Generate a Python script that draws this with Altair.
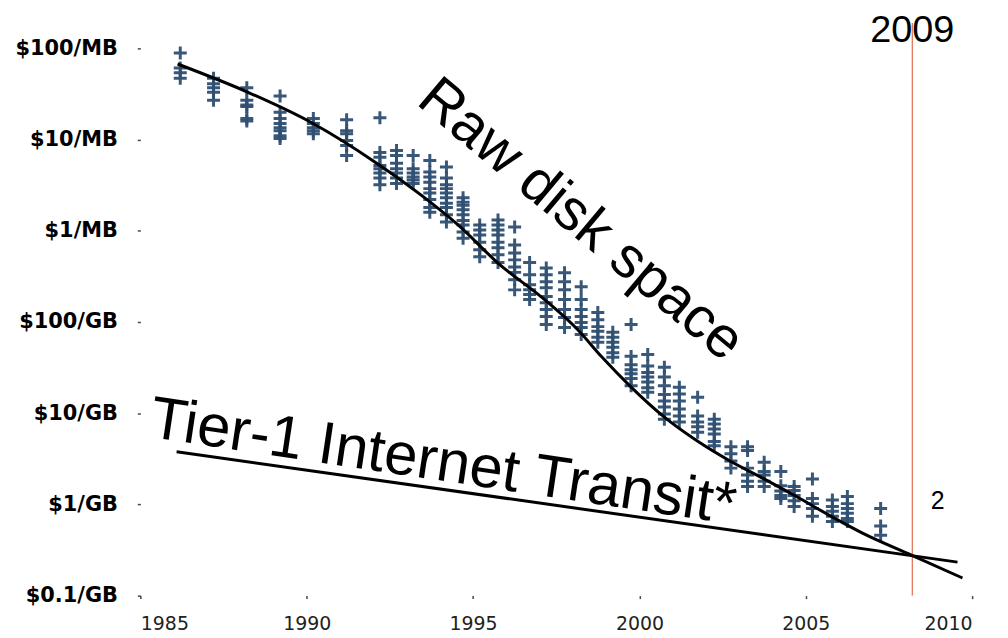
import altair as alt
import pandas as pd

# ---- data (price in $ per GB) ----
col_years = [1986.2, 1987.2, 1988.2, 1989.2, 1990.2, 1991.2, 1992.2, 1992.7,
             1993.2, 1993.7, 1994.2, 1994.7, 1995.2, 1995.75, 1996.25, 1996.7,
             1997.2, 1997.75, 1998.25, 1998.75, 1999.2, 1999.75, 2000.25, 2000.75,
             2001.2, 2001.75, 2002.25, 2002.75, 2003.25, 2003.75, 2004.25, 2004.65,
             2005.2, 2005.8, 2006.25, 2007.25]

col_prices = [
    [89000, 61000, 54000, 47000],
    [47000, 41000, 37000, 33000, 27000],
    [37000, 27000, 24000, 23000, 17000, 16000],
    [30000, 20000, 17000, 15000, 13500, 12500, 11000, 10300],
    [17000, 15000, 13500, 12500, 11600],
    [16500, 12500, 11600, 9750, 8600, 6700],
    [17400, 7200, 6400, 5200, 4800, 4300, 3800, 3200],
    [7600, 6700, 5500, 4800, 4300, 3800, 3300],
    [6700, 4800, 4300, 3900, 3600, 3300],
    [5900, 4400, 3900, 3400, 2900, 2600, 2200, 1800, 1600],
    [5000, 3800, 3200, 2900, 2600, 2300, 2000, 1800, 1500, 1250],
    [2300, 2060, 1900, 1700, 1500, 1300, 1160, 970, 830],
    [1160, 1020, 900, 750, 620, 520],
    [1310, 1160, 1020, 900, 750, 650, 545, 450],
    [1100, 700, 570, 480, 400, 350, 290, 225],
    [450, 330, 256, 226, 200, 176],
    [390, 330, 276, 238, 190, 163, 137, 115, 94],
    [346, 276, 226, 176, 137, 112, 87],
    [244, 176, 137, 115, 99, 87, 73],
    [127, 106, 89, 79, 68, 60],
    [77, 68, 60, 53, 46, 41],
    [94, 42, 34, 30, 27, 24, 20],
    [44, 33, 28, 25, 22, 19, 17],
    [32, 25, 20, 16, 13.6, 11.7, 9.8, 8.6],
    [19.3, 16.2, 13.6, 11.1, 9.3, 8.0],
    [15, 9.3, 8.0, 7.1, 6.2],
    [8.6, 7.6, 6.7, 5.9, 4.9, 4.4],
    [4.3, 3.6, 3.0, 2.5],
    [4.3, 3.9, 2.5, 2.1, 1.8, 1.57],
    [2.9, 2.3, 2.1, 1.8, 1.57],
    [2.3, 1.6, 1.4, 1.25, 1.16],
    [1.57, 1.42, 1.25, 1.10, 0.95],
    [1.9, 1.16, 1.02, 0.90, 0.74],
    [1.12, 0.95, 0.84, 0.74, 0.65],
    [1.22, 1.02, 0.90, 0.80, 0.70, 0.65],
    [0.90, 0.58, 0.46],
]

disk_curve_years = [1986.12, 1988.27, 1990.15, 1992.07, 1993.56, 1994.55, 1995.74,
                    1997.15, 1998.14, 1998.88, 1999.72, 2000.74, 2001.73, 2002.71,
                    2003.73, 2004.72, 2005.71, 2006.72, 2008.19, 2009.71]
disk_curve_prices = [67400, 32600, 15300, 5620, 2280, 1160, 446,
                     176, 82.8, 41.0, 19.8, 9.1, 4.98, 3.01,
                     1.92, 1.22, 0.759, 0.482, 0.277, 0.156]

transit_years = [1986.09, 2009.56]
transit_prices = [3.78, 0.233]

marker_year = 2008.2
marker_top = 190000
marker_bottom = 0.1

y_tick_values = [100000, 10000, 1000, 100, 10, 1, 0.1]
y_tick_labels = ["$100/MB", "$10/MB", "$1/MB", "$100/GB", "$10/GB", "$1/GB", "$0.1/GB"]
x_tick_values = [1985, 1990, 1995, 2000, 2005, 2010]

annotations = [
    # text, year, price, angle, size
    ("Raw disk space", 1998.23, 1310, 40, 58),
    ("Tier-1 Internet Transit*", 1994.10, 2.86, 8.5, 60),
    ("2009", 2008.2, 154500, 0, 38),
    ("2", 2008.96, 1.08, 0, 25),
]

# ---- tables ----
rows = []
for yr, prices in zip(col_years, col_prices):
    for p in prices:
        rows.append({"year": yr, "price": p})
scatter_df = pd.DataFrame(rows)
disk_df = pd.DataFrame({"year": disk_curve_years, "price": disk_curve_prices})
transit_df = pd.DataFrame({"year": transit_years, "price": transit_prices})
rule_df = pd.DataFrame({"year": [marker_year], "price": [marker_top], "price2": [marker_bottom]})

label_expr = ""
for v, lab in zip(y_tick_values, y_tick_labels):
    label_expr += f"abs(datum.value - {v}) < {v * 0.01} ? '{lab}' : "
label_expr += "''"

FONT = "Liberation Sans"
AXFONT = "DejaVu Sans"

xscale = alt.Scale(domain=[1985, 2010], nice=False, zero=False)
yscale = alt.Scale(type="log", domain=[0.1, 100000], nice=False)

xaxis = alt.Axis(values=x_tick_values, format="d", title=None, grid=False, domain=False,
                 labelFont=AXFONT, labelFontSize=19, labelColor="#222222",
                 tickSize=3, tickColor="#444444", tickWidth=1.5, labelPadding=16)
yaxis = alt.Axis(values=y_tick_values, labelExpr=label_expr, title=None, grid=False, domain=False,
                 labelFont=AXFONT, labelFontSize=21, labelFontWeight="bold", labelColor="#000000",
                 tickSize=3, tickColor="#444444", tickWidth=1.5, labelPadding=20)

X = alt.X("year:Q", scale=xscale, axis=xaxis)
Y = alt.Y("price:Q", scale=yscale, axis=yaxis)

rule = alt.Chart(rule_df).mark_rule(color="#d9502a", strokeWidth=1).encode(
    x=alt.X("year:Q", scale=xscale, axis=xaxis),
    y=alt.Y("price:Q", scale=yscale, axis=yaxis),
    y2="price2:Q",
)

points = alt.Chart(scatter_df).mark_point(
    shape="M-1,0L1,0M0,-1L0,1", size=170, filled=False, strokeWidth=3,
    color="#2f5072", opacity=0.95,
).encode(x=X, y=Y)

disk_line = alt.Chart(disk_df).mark_line(color="black", strokeWidth=3, interpolate="monotone").encode(
    x=X, y=Y)
transit_line = alt.Chart(transit_df).mark_line(color="black", strokeWidth=3).encode(x=X, y=Y)

text_layers = []
for txt, yr, pr, ang, sz in annotations:
    tdf = pd.DataFrame({"year": [yr], "price": [pr], "label": [txt]})
    text_layers.append(
        alt.Chart(tdf).mark_text(angle=ang, fontSize=sz, font=FONT, align="center",
                                 baseline="middle", color="black").encode(x=X, y=Y, text="label:N")
    )

chart = alt.layer(rule, points, disk_line, transit_line, *text_layers).properties(
    width=836, height=550,
    autosize=alt.AutoSizeParams(type="none"),
    padding={"left": 133, "top": 39, "right": 28, "bottom": 40},
    background="white",
).configure_view(stroke=None)

chart.save("out.html", embed_options={"renderer": "svg", "actions": False})
